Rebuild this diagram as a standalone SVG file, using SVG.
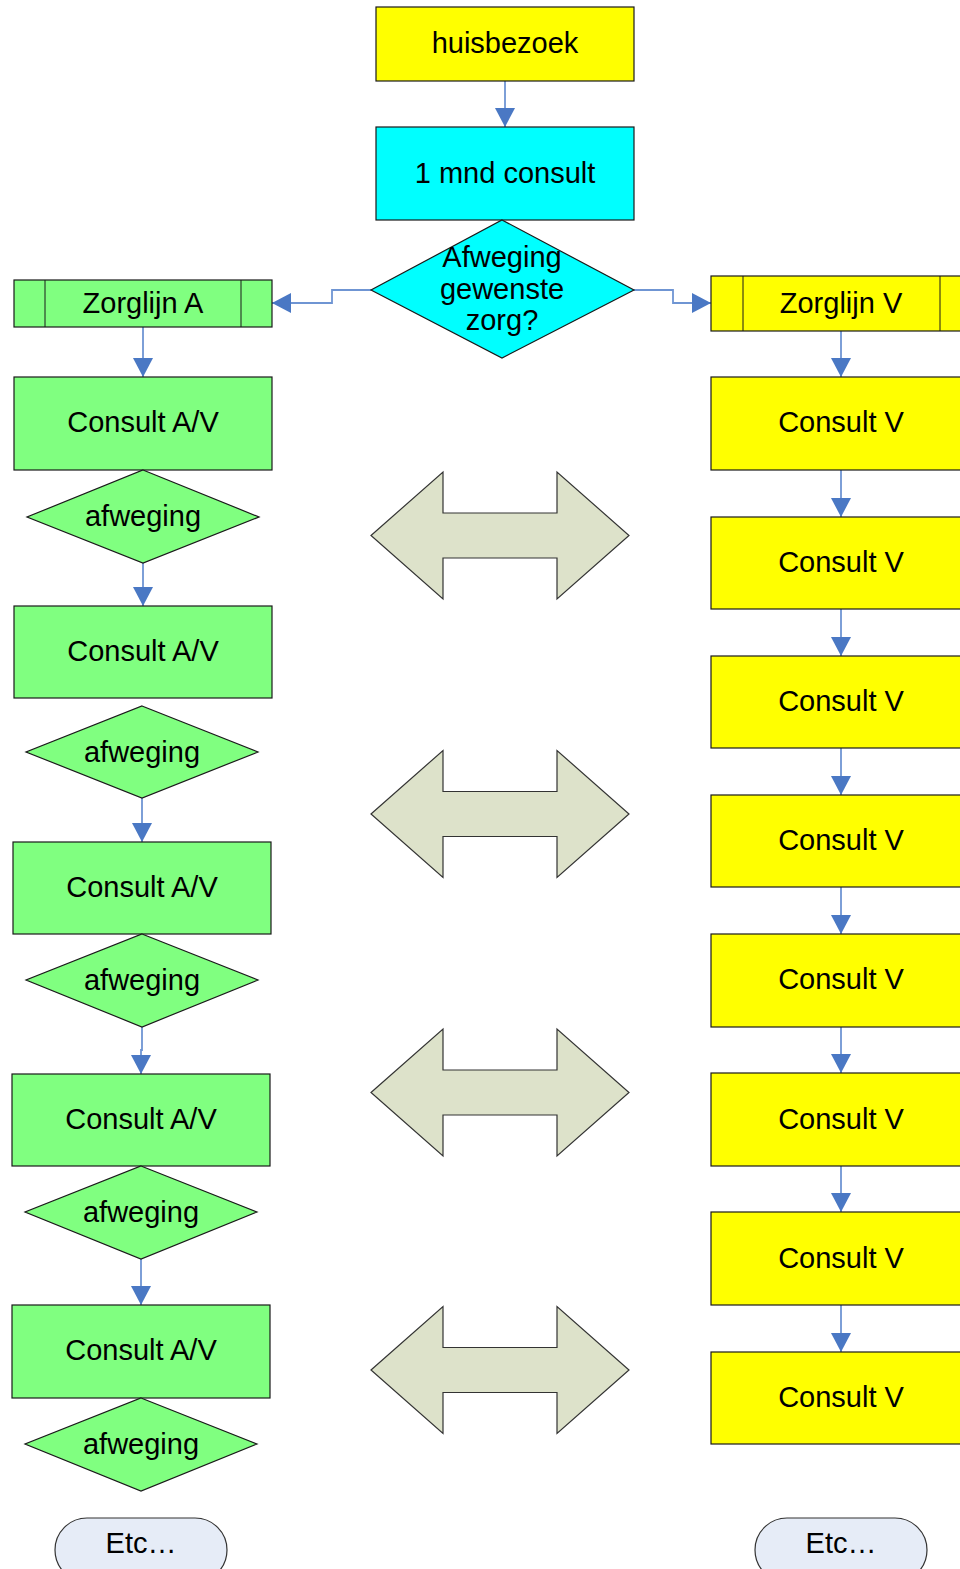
<svg xmlns="http://www.w3.org/2000/svg" width="960" height="1569" viewBox="0 0 960 1569">
<style>
.t{font-family:"Liberation Sans",Arial,sans-serif;font-size:29px;fill:#000;text-anchor:middle}
.g{fill:#80FF80;stroke:#1a1a1a;stroke-width:1.2}
.y{fill:#FFFF00;stroke:#1a1a1a;stroke-width:1.2}
.c{fill:#00FFFF;stroke:#1a1a1a;stroke-width:1.2}
.da{fill:#DDE2CA;stroke:#333;stroke-width:1.2}
.e{fill:#E6ECF7;stroke:#333;stroke-width:1.2}
.ln{fill:none;stroke:#6F95D3;stroke-width:1.8}
.in{stroke:#1a1a1a;stroke-width:1}
</style>
<defs>
<marker id="ah" markerUnits="userSpaceOnUse" markerWidth="19" markerHeight="20" refX="19" refY="10" orient="auto">
<path d="M0,0 L19,10 L0,20 Z" fill="#4A78C4"/>
</marker>
</defs>
<rect width="960" height="1569" fill="#fff"/>

<g id="connectors">
<path class="ln" d="M505,81 V127" marker-end="url(#ah)"/>
<path class="ln" d="M371,290 H332 V303 H272" marker-end="url(#ah)"/>
<path class="ln" d="M634,290 H673 V303 H711" marker-end="url(#ah)"/>
<path class="ln" d="M143,327 V377" marker-end="url(#ah)"/>
<path class="ln" d="M143,563 V606" marker-end="url(#ah)"/>
<path class="ln" d="M142,798 V842" marker-end="url(#ah)"/>
<path class="ln" d="M142,1027 V1050 H141 V1074" marker-end="url(#ah)"/>
<path class="ln" d="M141,1259 V1305" marker-end="url(#ah)"/>
<path class="ln" d="M841,331 V377" marker-end="url(#ah)"/>
<path class="ln" d="M841,470 V517" marker-end="url(#ah)"/>
<path class="ln" d="M841,609 V656" marker-end="url(#ah)"/>
<path class="ln" d="M841,748 V795" marker-end="url(#ah)"/>
<path class="ln" d="M841,887 V934" marker-end="url(#ah)"/>
<path class="ln" d="M841,1027 V1073" marker-end="url(#ah)"/>
<path class="ln" d="M841,1166 V1212" marker-end="url(#ah)"/>
<path class="ln" d="M841,1305 V1352" marker-end="url(#ah)"/>
</g>

<g id="huisbezoek"><rect class="y" x="376" y="7" width="258" height="74"/><text class="t" x="505" y="53">huisbezoek</text></g>
<g id="consult1mnd"><rect class="c" x="376" y="127" width="258" height="93"/><text class="t" x="505" y="183">1 mnd consult</text></g>
<g id="afweging-zorg"><path class="c" d="M502,220 L634,290 L502,358 L371,290 Z"/>
<text class="t" x="502" y="267">Afweging</text><text class="t" x="502" y="299">gewenste</text><text class="t" x="502" y="330">zorg?</text></g>

<g id="zorglijnA"><rect class="g" x="14" y="280" width="258" height="47"/><line class="in" x1="45" y1="280" x2="45" y2="327"/><line class="in" x1="241" y1="280" x2="241" y2="327"/><text class="t" x="143" y="313">Zorglijn A</text></g>
<g id="zorglijnV"><rect class="y" x="711" y="276" width="258" height="55"/><line class="in" x1="743" y1="276" x2="743" y2="331"/><line class="in" x1="940" y1="276" x2="940" y2="331"/><text class="t" x="841" y="313">Zorglijn V</text></g>

<g id="consultA1"><rect class="g" x="14" y="377" width="258" height="93"/><text class="t" x="143" y="432">Consult A/V</text></g>
<g id="afwegingA1"><path class="g" d="M143,470 L259,517 L143,563 L27,517 Z"/><text class="t" x="143" y="526">afweging</text></g>
<g id="consultA2"><rect class="g" x="14" y="606" width="258" height="92"/><text class="t" x="143" y="661">Consult A/V</text></g>
<g id="afwegingA2"><path class="g" d="M142,706 L258,752 L142,798 L26,752 Z"/><text class="t" x="142" y="762">afweging</text></g>
<g id="consultA3"><rect class="g" x="13" y="842" width="258" height="92"/><text class="t" x="142" y="897">Consult A/V</text></g>
<g id="afwegingA3"><path class="g" d="M142,934 L258,980 L142,1027 L26,980 Z"/><text class="t" x="142" y="990">afweging</text></g>
<g id="consultA4"><rect class="g" x="12" y="1074" width="258" height="92"/><text class="t" x="141" y="1129">Consult A/V</text></g>
<g id="afwegingA4"><path class="g" d="M141,1166 L257,1212 L141,1259 L25,1212 Z"/><text class="t" x="141" y="1222">afweging</text></g>
<g id="consultA5"><rect class="g" x="12" y="1305" width="258" height="93"/><text class="t" x="141" y="1360">Consult A/V</text></g>
<g id="afwegingA5"><path class="g" d="M141,1398 L257,1444 L141,1491 L25,1444 Z"/><text class="t" x="141" y="1454">afweging</text></g>
<g id="etcA"><rect class="e" x="55" y="1518" width="172" height="64" rx="32" ry="32"/><text class="t" x="141" y="1553">Etc…</text></g>

<g id="consultV1"><rect class="y" x="711" y="377" width="258" height="93"/><text class="t" x="841" y="432">Consult V</text></g>
<g id="consultV2"><rect class="y" x="711" y="517" width="258" height="92"/><text class="t" x="841" y="572">Consult V</text></g>
<g id="consultV3"><rect class="y" x="711" y="656" width="258" height="92"/><text class="t" x="841" y="711">Consult V</text></g>
<g id="consultV4"><rect class="y" x="711" y="795" width="258" height="92"/><text class="t" x="841" y="850">Consult V</text></g>
<g id="consultV5"><rect class="y" x="711" y="934" width="258" height="93"/><text class="t" x="841" y="989">Consult V</text></g>
<g id="consultV6"><rect class="y" x="711" y="1073" width="258" height="93"/><text class="t" x="841" y="1129">Consult V</text></g>
<g id="consultV7"><rect class="y" x="711" y="1212" width="258" height="93"/><text class="t" x="841" y="1268">Consult V</text></g>
<g id="consultV8"><rect class="y" x="711" y="1352" width="258" height="92"/><text class="t" x="841" y="1407">Consult V</text></g>
<g id="etcV"><rect class="e" x="755" y="1518" width="172" height="64" rx="32" ry="32"/><text class="t" x="841" y="1553">Etc…</text></g>

<g id="dblarrow1"><path class="da" d="M371,535.5 L443,472 L443,513 L557,513 L557,472 L629,535.5 L557,599 L557,558 L443,558 L443,599 Z"/></g>
<g id="dblarrow2"><path class="da" d="M371,814 L443,750.5 L443,791.5 L557,791.5 L557,750.5 L629,814 L557,877.5 L557,836.5 L443,836.5 L443,877.5 Z"/></g>
<g id="dblarrow3"><path class="da" d="M371,1092.5 L443,1029 L443,1070 L557,1070 L557,1029 L629,1092.5 L557,1156 L557,1115 L443,1115 L443,1156 Z"/></g>
<g id="dblarrow4"><path class="da" d="M371,1370 L443,1306.5 L443,1347.5 L557,1347.5 L557,1306.5 L629,1370 L557,1433.5 L557,1392.5 L443,1392.5 L443,1433.5 Z"/></g>
</svg>
